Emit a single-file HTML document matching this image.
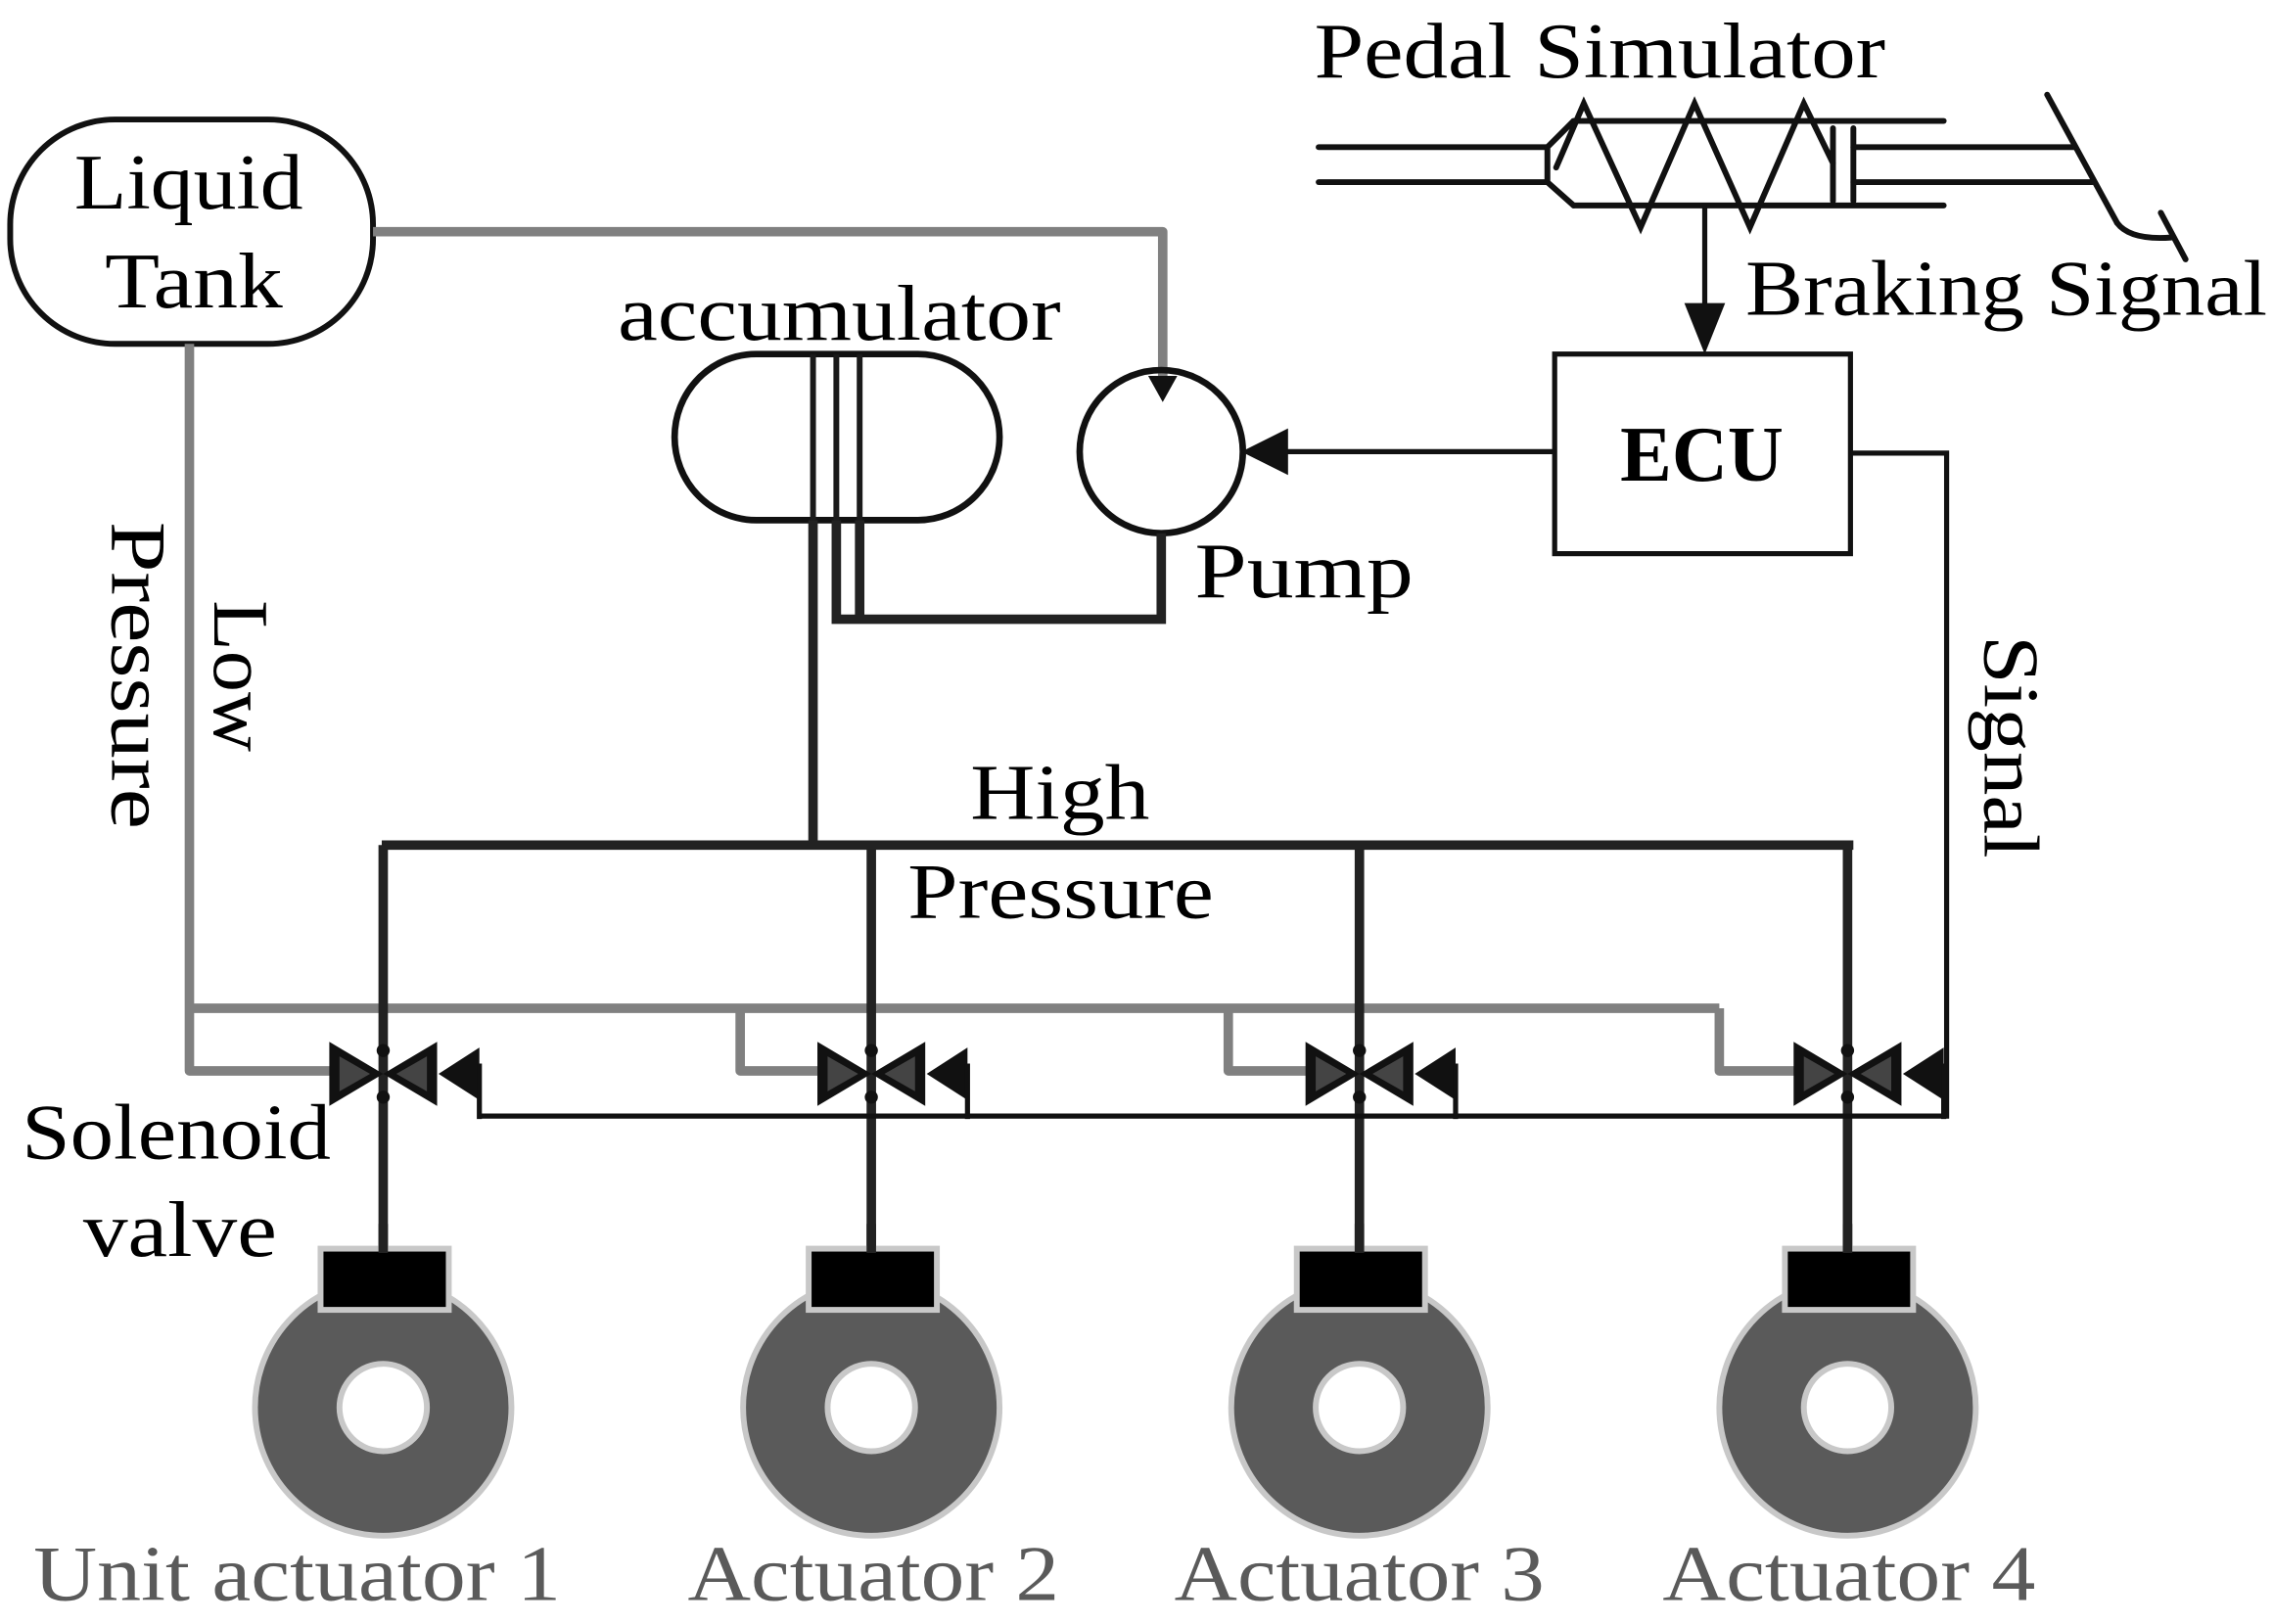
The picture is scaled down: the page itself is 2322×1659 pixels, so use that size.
<!DOCTYPE html>
<html><head><meta charset="utf-8"><style>html,body{margin:0;padding:0;background:#fff}svg{display:block}</style></head>
<body>
<svg width="2322" height="1659" viewBox="0 0 1560 1114.6" preserveAspectRatio="none" xmlns="http://www.w3.org/2000/svg" font-family="'Liberation Serif', serif">
<rect width="1560" height="1115" fill="#fff"/>
<rect x="7" y="82" width="249" height="154" rx="72" ry="72" fill="none" stroke="#111" stroke-width="4"/>
<text x="51" y="143" font-size="54" textLength="157" lengthAdjust="spacingAndGlyphs">Liquid</text>
<text x="72" y="211" font-size="54" textLength="122" lengthAdjust="spacingAndGlyphs">Tank</text>
<g stroke="#808080" stroke-width="6.5" fill="none" stroke-linejoin="round">
<polyline points="256,159 798,159 798,262"/>
<polyline points="130,236 130,735 232,735"/>
<polyline points="130,692 1180,692"/>
<polyline points="508,692 508,735 567,735"/>
<polyline points="843,692 843,735 902,735"/>
<polyline points="1180,692 1180,735 1237,735"/>
</g>
<polygon points="788,258 808,258 798,276" fill="#111"/>
<rect x="463" y="243" width="223" height="114" rx="56" ry="57" fill="none" stroke="#111" stroke-width="4.5"/>
<g stroke="#1a1a1a" stroke-width="4" fill="none">
<line x1="558" y1="243" x2="558" y2="357"/><line x1="574" y1="243" x2="574" y2="357"/><line x1="590" y1="243" x2="590" y2="357"/>
</g>
<text x="424" y="233" font-size="54" textLength="304" lengthAdjust="spacingAndGlyphs">accumulator</text>
<circle cx="797" cy="310" r="56" fill="none" stroke="#111" stroke-width="4.5"/>
<text x="820" y="410" font-size="54" textLength="150" lengthAdjust="spacingAndGlyphs">Pump</text>
<g stroke="#222" stroke-width="6.5" fill="none">
<polyline points="574,357 574,425 797,425 797,366"/>
<polyline points="590,357 590,425"/>
<line x1="558" y1="357" x2="558" y2="580"/>
<line x1="262" y1="580" x2="1272" y2="580"/>
<line x1="263" y1="580" x2="263" y2="860"/>
<line x1="598" y1="580" x2="598" y2="860"/>
<line x1="933" y1="580" x2="933" y2="860"/>
<line x1="1268" y1="580" x2="1268" y2="860"/>
</g>
<text x="666" y="562" font-size="54" textLength="123" lengthAdjust="spacingAndGlyphs">High</text>
<text x="623" y="630" font-size="54" textLength="210" lengthAdjust="spacingAndGlyphs">Pressure</text>
<text transform="translate(147,412) rotate(90)" font-size="54" textLength="104" lengthAdjust="spacingAndGlyphs">Low</text>
<text transform="translate(77,358) rotate(90)" font-size="54" textLength="211" lengthAdjust="spacingAndGlyphs">Pressure</text>
<text transform="translate(1362,436) rotate(90)" font-size="54" textLength="153" lengthAdjust="spacingAndGlyphs">Signal</text>
<rect x="1067" y="243" width="203" height="137" fill="none" stroke="#111" stroke-width="3.5"/>
<text x="1168" y="330" font-size="54" font-weight="bold" text-anchor="middle" textLength="112" lengthAdjust="spacingAndGlyphs">ECU</text>
<line x1="1067" y1="310" x2="880" y2="310" stroke="#111" stroke-width="3.5"/>
<polygon points="852,310 884,294 884,326" fill="#111"/>
<polyline points="1270,311 1336,311 1336,766 330,766" fill="none" stroke="#111" stroke-width="3.5"/>
<line x1="1170" y1="141" x2="1170" y2="212" stroke="#111" stroke-width="3.5"/>
<polygon points="1170,243 1156,208 1184,208" fill="#111"/>
<text x="1198" y="216" font-size="54" textLength="358" lengthAdjust="spacingAndGlyphs">Braking Signal</text>
<text x="902" y="53" font-size="54" textLength="392" lengthAdjust="spacingAndGlyphs">Pedal Simulator</text>
<g stroke="#111" stroke-width="4" fill="none" stroke-linecap="round">
<line x1="905" y1="101" x2="1062" y2="101"/>
<line x1="905" y1="125" x2="1062" y2="125"/>
<polyline points="1080,83 1062,101 1062,125 1080,141"/>
<line x1="1080" y1="83" x2="1334" y2="83"/>
<line x1="1080" y1="141" x2="1334" y2="141"/>
<polyline points="1068,115 1087,71 1126,156 1163,71 1201,156 1238,71 1258,112"/>
<line x1="1258" y1="88" x2="1258" y2="138"/>
<line x1="1272" y1="88" x2="1272" y2="138"/>
<line x1="1272" y1="101" x2="1424" y2="101"/>
<line x1="1272" y1="125" x2="1436" y2="125"/>
<line x1="1405" y1="65" x2="1453" y2="153"/>
<path d="M1453,153 Q1462,165 1490,163"/>
<line x1="1483" y1="146" x2="1500" y2="178"/>
</g>
<g id="v">
<polygon points="226,715 226,759 263,737" fill="#111"/>
<polygon points="300,715 300,759 263,737" fill="#111"/>
<polygon points="233,725 233,749 254,737" fill="#444"/>
<polygon points="293,725 293,749 272,737" fill="#444"/>
<polygon points="301,737 329,719 329,755" fill="#111"/>
<line x1="329" y1="730" x2="329" y2="768" stroke="#111" stroke-width="3.5"/>
<circle cx="263" cy="721" r="4.5" fill="#111"/><circle cx="263" cy="753" r="4.5" fill="#111"/>
</g>
<use href="#v" x="335"/><use href="#v" x="670"/><use href="#v" x="1005"/>
<text x="15" y="795" font-size="54" textLength="212" lengthAdjust="spacingAndGlyphs">Solenoid</text>
<text x="57" y="862" font-size="54" textLength="133" lengthAdjust="spacingAndGlyphs">valve</text>
<g id="a">
<circle cx="263" cy="966" r="88" fill="#5a5a5a" stroke="#c8c8c8" stroke-width="4"/>
<circle cx="263" cy="966" r="30" fill="#fff" stroke="#c8c8c8" stroke-width="4"/>
<rect x="220" y="857" width="88" height="42" fill="#000" stroke="#c8c8c8" stroke-width="4"/>
<line x1="263" y1="840" x2="263" y2="860" stroke="#222" stroke-width="6.5"/>
</g>
<use href="#a" x="335"/><use href="#a" x="670"/><use href="#a" x="1005"/>
<g fill="#5a5a5a" font-size="54">
<text x="23" y="1098" textLength="362" lengthAdjust="spacingAndGlyphs">Unit actuator 1</text>
<text x="472" y="1098" textLength="255" lengthAdjust="spacingAndGlyphs">Actuator 2</text>
<text x="806" y="1098" textLength="254" lengthAdjust="spacingAndGlyphs">Actuator 3</text>
<text x="1141" y="1098" textLength="256" lengthAdjust="spacingAndGlyphs">Actuator 4</text>
</g>
</svg>
</body></html>
